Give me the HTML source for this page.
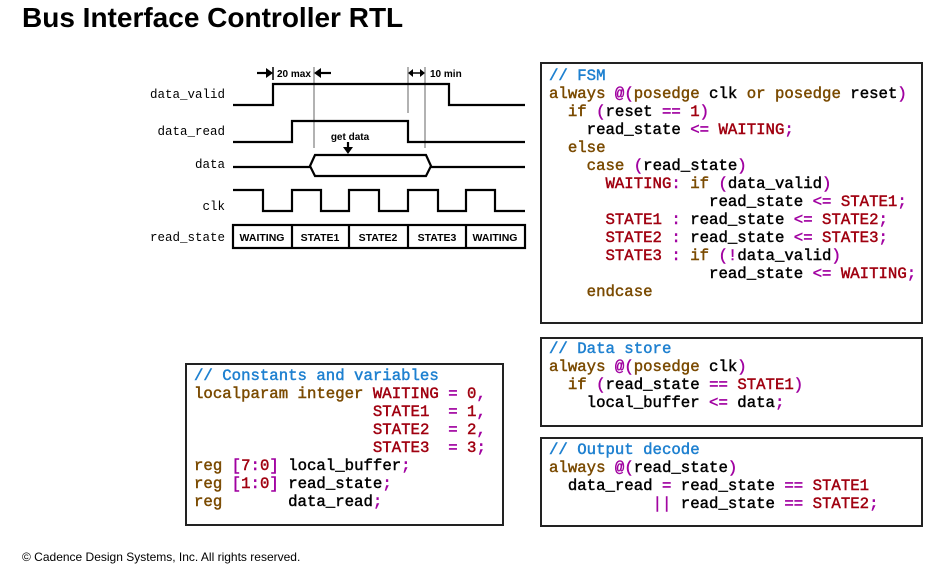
<!DOCTYPE html>
<html><head><meta charset="utf-8"><style>
body{margin:0;width:944px;height:574px;background:#fff;position:relative;overflow:hidden;font-family:"Liberation Sans",sans-serif}
.t{position:absolute;left:22px;top:2px;font-size:28px;font-weight:bold;color:#000}
.f{position:absolute;left:22px;top:550px;font-size:12px;color:#000}
.box{position:absolute;border:2px solid #222;box-sizing:border-box}
pre{position:absolute;margin:0;font-family:"Liberation Mono",monospace;font-size:15.7px;line-height:18px;font-weight:normal;-webkit-text-stroke:0.45px currentColor;color:#000}
.k{color:#7a4a00}.c{color:#a00010}.o{color:#a000a0}.m{color:#1e80d0}
</style></head><body>
<div class="t">Bus Interface Controller RTL</div>
<div class="f">© Cadence Design Systems, Inc. All rights reserved.</div>

<svg style="position:absolute;left:0;top:0" width="944" height="574">
<g font-family="Liberation Mono,monospace" font-size="12.5" text-anchor="end" fill="#000">
<text x="225" y="98">data_valid</text>
<text x="225" y="135">data_read</text>
<text x="225" y="168">data</text>
<text x="225" y="210">clk</text>
<text x="225" y="241">read_state</text>
</g>
<g stroke="#999" stroke-width="1.5">
<line x1="314" y1="67" x2="314" y2="148"/>
<line x1="408" y1="67" x2="408" y2="113"/>
<line x1="425" y1="67" x2="425" y2="148"/>
</g>
<g stroke="#000" stroke-width="2.2" fill="none">
<polyline points="233,105 273,105 273,84 449,84 449,105 525,105"/>
<polyline points="233,142 292,142 292,121 408,121 408,142 525,142"/>
<line x1="233" y1="167" x2="310" y2="167"/>
<line x1="431" y1="167" x2="525" y2="167"/>
<polygon points="310,166 315,155 426,155 431,166 426,176 315,176"/>
<polyline points="233,190 263,190 263,211 292,211 292,190 321,190 321,211 349,211 349,190 379,190 379,211 408,211 408,190 438,190 438,211 466,211 466,190 495,190 495,211 525,211"/>
<rect x="233" y="225" width="292" height="23"/>
<line x1="292" y1="225" x2="292" y2="248"/><line x1="349" y1="225" x2="349" y2="248"/>
<line x1="408" y1="225" x2="408" y2="248"/><line x1="466" y1="225" x2="466" y2="248"/>
<line x1="257" y1="73" x2="268" y2="73"/><line x1="320" y1="73" x2="331" y2="73"/>
<line x1="273" y1="67" x2="273" y2="80" stroke-width="1.5"/>
<line x1="348" y1="142" x2="348" y2="148"/>
</g>
<g fill="#000">
<polygon points="273,73 266,68 266,78"/>
<polygon points="314,73 321,68 321,78"/>
<polygon points="408,73 413,69 413,77"/><polygon points="425,73 420,69 420,77"/>
<polygon points="348,154 343,147 353,147"/>
</g>
<line x1="412" y1="73" x2="421" y2="73" stroke="#000" stroke-width="1.5"/>
<g font-family="Liberation Sans,sans-serif" font-weight="bold" font-size="10" fill="#000">
<text x="277" y="77">20 max</text>
<text x="430" y="77">10 min</text>
<text x="350" y="140" text-anchor="middle">get data</text>
</g>
<g font-family="Liberation Sans,sans-serif" font-weight="bold" font-size="10.5" fill="#000" text-anchor="middle">
<text x="262" y="241">WAITING</text><text x="320" y="241">STATE1</text>
<text x="378" y="241">STATE2</text><text x="437" y="241">STATE3</text>
<text x="495" y="241">WAITING</text>
</g>
</svg>

<div class="box" style="left:540px;top:62px;width:383px;height:262px"></div>
<pre style="left:549px;top:67px"><span class="m">// FSM</span>
<span class="k">always</span> <span class="o">@(</span><span class="k">posedge</span> clk <span class="k">or</span> <span class="k">posedge</span> reset<span class="o">)</span>
  <span class="k">if</span> <span class="o">(</span>reset <span class="o">==</span> <span class="c">1</span><span class="o">)</span>
    read_state <span class="o">&lt;=</span> <span class="c">WAITING</span><span class="o">;</span>
  <span class="k">else</span>
    <span class="k">case</span> <span class="o">(</span>read_state<span class="o">)</span>
      <span class="c">WAITING</span><span class="o">:</span> <span class="k">if</span> <span class="o">(</span>data_valid<span class="o">)</span>
                 read_state <span class="o">&lt;=</span> <span class="c">STATE1</span><span class="o">;</span>
      <span class="c">STATE1</span> <span class="o">:</span> read_state <span class="o">&lt;=</span> <span class="c">STATE2</span><span class="o">;</span>
      <span class="c">STATE2</span> <span class="o">:</span> read_state <span class="o">&lt;=</span> <span class="c">STATE3</span><span class="o">;</span>
      <span class="c">STATE3</span> <span class="o">:</span> <span class="k">if</span> <span class="o">(!</span>data_valid<span class="o">)</span>
                 read_state <span class="o">&lt;=</span> <span class="c">WAITING</span><span class="o">;</span>
    <span class="k">endcase</span></pre>

<div class="box" style="left:540px;top:337px;width:383px;height:90px"></div>
<pre style="left:549px;top:340px"><span class="m">// Data store</span>
<span class="k">always</span> <span class="o">@(</span><span class="k">posedge</span> clk<span class="o">)</span>
  <span class="k">if</span> <span class="o">(</span>read_state <span class="o">==</span> <span class="c">STATE1</span><span class="o">)</span>
    local_buffer <span class="o">&lt;=</span> data<span class="o">;</span></pre>

<div class="box" style="left:540px;top:437px;width:383px;height:90px"></div>
<pre style="left:549px;top:441px"><span class="m">// Output decode</span>
<span class="k">always</span> <span class="o">@(</span>read_state<span class="o">)</span>
  data_read <span class="o">=</span> read_state <span class="o">==</span> <span class="c">STATE1</span>
           <span class="o">||</span> read_state <span class="o">==</span> <span class="c">STATE2</span><span class="o">;</span></pre>

<div class="box" style="left:185px;top:363px;width:319px;height:163px"></div>
<pre style="left:194px;top:367px"><span class="m">// Constants and variables</span>
<span class="k">localparam integer</span> <span class="c">WAITING</span> <span class="o">=</span> <span class="c">0</span><span class="o">,</span>
                   <span class="c">STATE1</span>  <span class="o">=</span> <span class="c">1</span><span class="o">,</span>
                   <span class="c">STATE2</span>  <span class="o">=</span> <span class="c">2</span><span class="o">,</span>
                   <span class="c">STATE3</span>  <span class="o">=</span> <span class="c">3</span><span class="o">;</span>
<span class="k">reg</span> <span class="o">[</span><span class="c">7</span><span class="o">:</span><span class="c">0</span><span class="o">]</span> local_buffer<span class="o">;</span>
<span class="k">reg</span> <span class="o">[</span><span class="c">1</span><span class="o">:</span><span class="c">0</span><span class="o">]</span> read_state<span class="o">;</span>
<span class="k">reg</span>       data_read<span class="o">;</span></pre>
</body></html>
